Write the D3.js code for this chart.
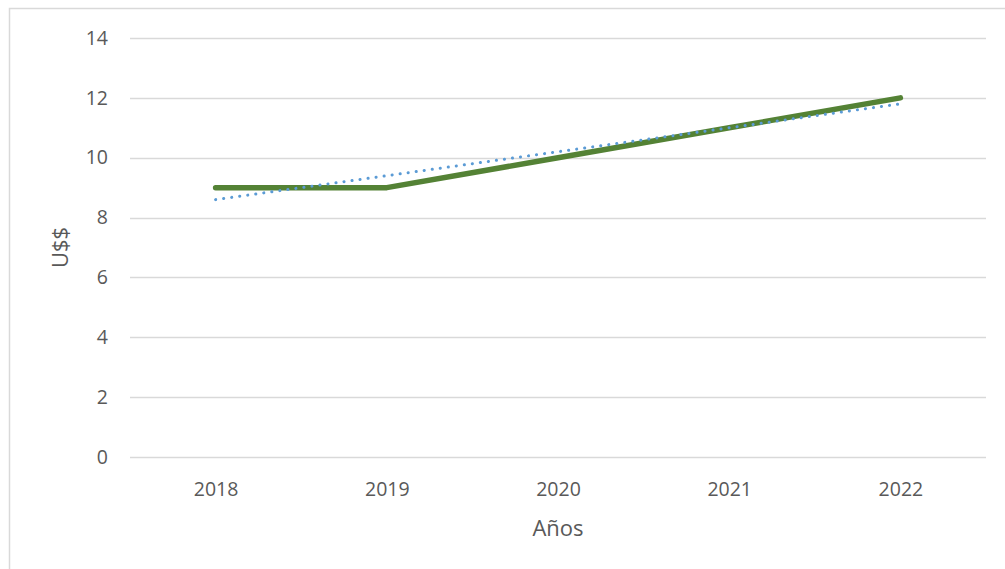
<!DOCTYPE html>
<html>
<head>
<meta charset="utf-8">
<script src="https://cdn.jsdelivr.net/npm/d3@7"></script>
<style>
  html, body { margin: 0; padding: 0; background: #fff; }
  svg { display: block; font-family: "Open Sans", "Noto Sans", sans-serif; }
</style>
</head>
<body>
<svg id="chart" width="1005" height="569"></svg>
<script>
// Price per year (US$) and its linear trend
const years = ["2018", "2019", "2020", "2021", "2022"];
const prices = [9, 9, 10, 11, 12];
const trend = [8.6, 9.4, 10.2, 11.0, 11.8];
const yTicks = [0, 2, 4, 6, 8, 10, 12, 14];

const svg = d3.select("#chart");
const plot = { left: 130, right: 986, top: 38, bottom: 457 };
const labelColor = "#595959";

// Chart frame
svg.append("rect")
  .attr("x", 9.5).attr("y", 8.5)
  .attr("width", 1005).attr("height", 569)
  .attr("fill", "#fff").attr("stroke", "#d9d9d9").attr("stroke-width", 1.5);

const x = d3.scalePoint().domain(years)
  .range([plot.left, plot.right]).padding(0.5);
const y = d3.scaleLinear().domain([0, 14]).range([plot.bottom, plot.top]);

// Horizontal gridlines
svg.append("g")
  .selectAll("line").data(yTicks).join("line")
  .attr("x1", plot.left).attr("x2", plot.right)
  .attr("y1", d => Math.round(y(d)) + 0.5).attr("y2", d => Math.round(y(d)) + 0.5)
  .attr("stroke", "#d9d9d9").attr("stroke-width", 1.3);

// Y axis labels
const yAxis = svg.append("g")
  .attr("transform", `translate(${plot.left - 22},0)`)
  .call(d3.axisLeft(y).tickValues(yTicks).tickSize(0).tickPadding(0));
yAxis.select(".domain").remove();
yAxis.selectAll("text")
  .attr("fill", labelColor).style("font-size", "19.5px")
  .style("font-family", "'Open Sans', sans-serif");

// X axis labels
const xAxis = svg.append("g")
  .attr("transform", "translate(0,496)")
  .call(d3.axisBottom(x).tickSize(0).tickPadding(0));
xAxis.select(".domain").remove();
xAxis.selectAll("text")
  .attr("y", 0).attr("dy", 0)
  .attr("fill", labelColor).style("font-size", "19.5px")
  .style("font-family", "'Open Sans', sans-serif");

// Axis titles
svg.append("text")
  .attr("x", x("2020")).attr("y", 536)
  .attr("text-anchor", "middle")
  .attr("fill", labelColor).style("font-size", "22px")
  .text("Años");

svg.append("text")
  .attr("transform", `translate(68,${(plot.top + plot.bottom) / 2}) rotate(-90)`)
  .attr("text-anchor", "middle")
  .attr("fill", labelColor).style("font-size", "22px")
  .text("U$$");

const line = d3.line().x((d, i) => x(years[i])).y(d => y(d));

// Price line
svg.append("path")
  .datum(prices)
  .attr("d", line)
  .attr("fill", "none")
  .attr("stroke", "#548235")
  .attr("stroke-width", 5.5)
  .attr("stroke-linecap", "round")
  .attr("stroke-linejoin", "round");

// Linear trend line (dotted)
svg.append("path")
  .datum(trend)
  .attr("d", line)
  .attr("fill", "none")
  .attr("stroke", "#5b9bd5")
  .attr("stroke-width", 3)
  .attr("stroke-linecap", "round")
  .attr("stroke-dasharray", "0.1 8");
</script>
</body>
</html>
